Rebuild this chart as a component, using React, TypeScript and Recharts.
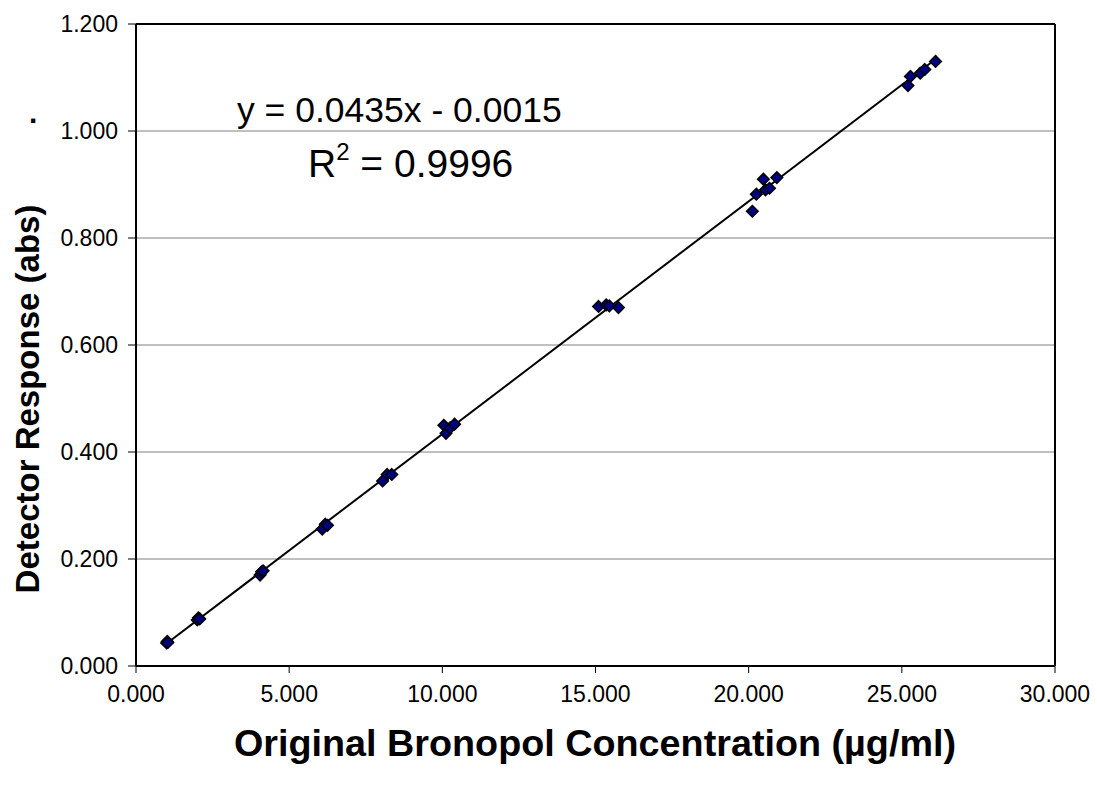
import React from 'react';
import { ScatterChart, Scatter, XAxis, YAxis, CartesianGrid, ReferenceLine } from 'recharts';

const concentration = [1.0, 1.02, 1.04, 2.0, 2.04, 2.08, 4.05, 4.1, 4.15, 6.08, 6.18, 6.25, 8.05, 8.2, 8.35, 10.05, 10.12, 10.25, 10.4, 15.1, 15.35, 15.45, 15.75, 20.12, 20.25, 20.48, 20.55, 20.68, 20.92, 25.2, 25.28, 25.6, 25.75, 26.1];
const response = [0.043, 0.046, 0.044, 0.086, 0.09, 0.088, 0.17, 0.176, 0.178, 0.256, 0.265, 0.263, 0.346, 0.358, 0.358, 0.45, 0.435, 0.445, 0.452, 0.672, 0.675, 0.673, 0.67, 0.85, 0.882, 0.91, 0.89, 0.893, 0.913, 1.085, 1.102, 1.108, 1.115, 1.13];

const trendX = [1.0, 26.1];
const trendY = [0.042, 1.134];

const xTicks = [0, 5, 10, 15, 20, 25, 30];
const xTickLabels = ['0.000', '5.000', '10.000', '15.000', '20.000', '25.000', '30.000'];
const yTicks = [0, 0.2, 0.4, 0.6, 0.8, 1.0, 1.2];
const yTickLabels = ['0.000', '0.200', '0.400', '0.600', '0.800', '1.000', '1.200'];

const xTitle = 'Original Bronopol Concentration (µg/ml)';
const yTitle = 'Detector Response (abs)';
const eqLine1 = 'y = 0.0435x - 0.0015';
const eqR = 'R';
const eqSup = '2';
const eqRest = ' = 0.9996';

const points = concentration.map((x, i) => ({ x, y: response[i] }));
const trend = trendX.map((x, i) => ({ x, y: trendY[i] }));

const FONT = '"Liberation Sans", Arial, sans-serif';

const Diamond = (props: any) => {
  const { cx, cy } = props;
  if (cx == null || cy == null) return <g />;
  const r = 5.8;
  return (
    <polygon
      points={`${cx},${cy - r} ${cx + r},${cy} ${cx},${cy + r} ${cx - r},${cy}`}
      fill="#000080"
      stroke="#000"
      strokeWidth={1.5}
    />
  );
};

const NoShape = () => <g />;

export default function App() {
  return (
    <div style={{ position: 'fixed', left: 0, top: 0, width: 1097, height: 786, background: '#fff', fontFamily: FONT }}>
      <ScatterChart width={1097} height={786} margin={{ top: 24, right: 42, bottom: 0, left: 0 }}>
        <CartesianGrid horizontal vertical={false} stroke="#808080" strokeWidth={1} />
        <XAxis
          type="number"
          dataKey="x"
          domain={[0, 30]}
          ticks={xTicks}
          tickFormatter={(v: number) => xTickLabels[xTicks.indexOf(v)]}
          height={120}
          axisLine={{ stroke: '#000', strokeWidth: 2 }}
          tickLine={{ stroke: '#000', strokeWidth: 1 }}
          tickSize={7}
          tickMargin={13}
          tick={{ fill: '#000', fontSize: 23, fontFamily: FONT }}
          label={{
            content: () => (
              <text
                x={595}
                y={756}
                textAnchor="middle"
                fontFamily={FONT}
                fontWeight="bold"
                fontSize={36}
                fill="#000"
                textLength={722}
                lengthAdjust="spacingAndGlyphs"
              >
                {xTitle}
              </text>
            ),
          }}
        />
        <YAxis
          type="number"
          dataKey="y"
          domain={[0, 1.2]}
          ticks={yTicks}
          tickFormatter={(v: number) => yTickLabels[yTicks.findIndex((t) => Math.abs(t - v) < 1e-9)]}
          width={136}
          axisLine={{ stroke: '#000', strokeWidth: 2 }}
          tickLine={{ stroke: '#000', strokeWidth: 1 }}
          tickSize={8}
          tickMargin={10}
          tick={{ fill: '#000', fontSize: 23, fontFamily: FONT }}
          label={{
            content: () => (
              <text
                x={27}
                y={399}
                textAnchor="middle"
                dominantBaseline="central"
                transform="rotate(-90, 27, 399)"
                fontFamily={FONT}
                fontWeight="bold"
                fontSize={33}
                fill="#000"
              >
                {yTitle}
              </text>
            ),
          }}
        />
        <ReferenceLine y={1.2} stroke="#000" strokeWidth={2} />
        <ReferenceLine x={30} stroke="#000" strokeWidth={2} />
        <Scatter
          data={trend}
          line={{ stroke: '#000', strokeWidth: 2 }}
          shape={NoShape}
          isAnimationActive={false}
        />
        <Scatter data={points} shape={Diamond} isAnimationActive={false} />
      </ScatterChart>
      <svg width={1097} height={786} style={{ position: 'absolute', left: 0, top: 0, pointerEvents: 'none' }}>
        <text x={237} y={122} fontFamily={FONT} fontSize={35.5} fill="#000">{eqLine1}</text>
        <text x={308} y={177} fontFamily={FONT} fontSize={39} fill="#000">
          {eqR}
          <tspan fontSize={24} dy={-17}>{eqSup}</tspan>
          <tspan dy={17}>{eqRest}</tspan>
        </text>
        <text x={29} y={123} fontFamily={FONT} fontWeight="bold" fontSize={30} fill="#000">.</text>
      </svg>
    </div>
  );
}
